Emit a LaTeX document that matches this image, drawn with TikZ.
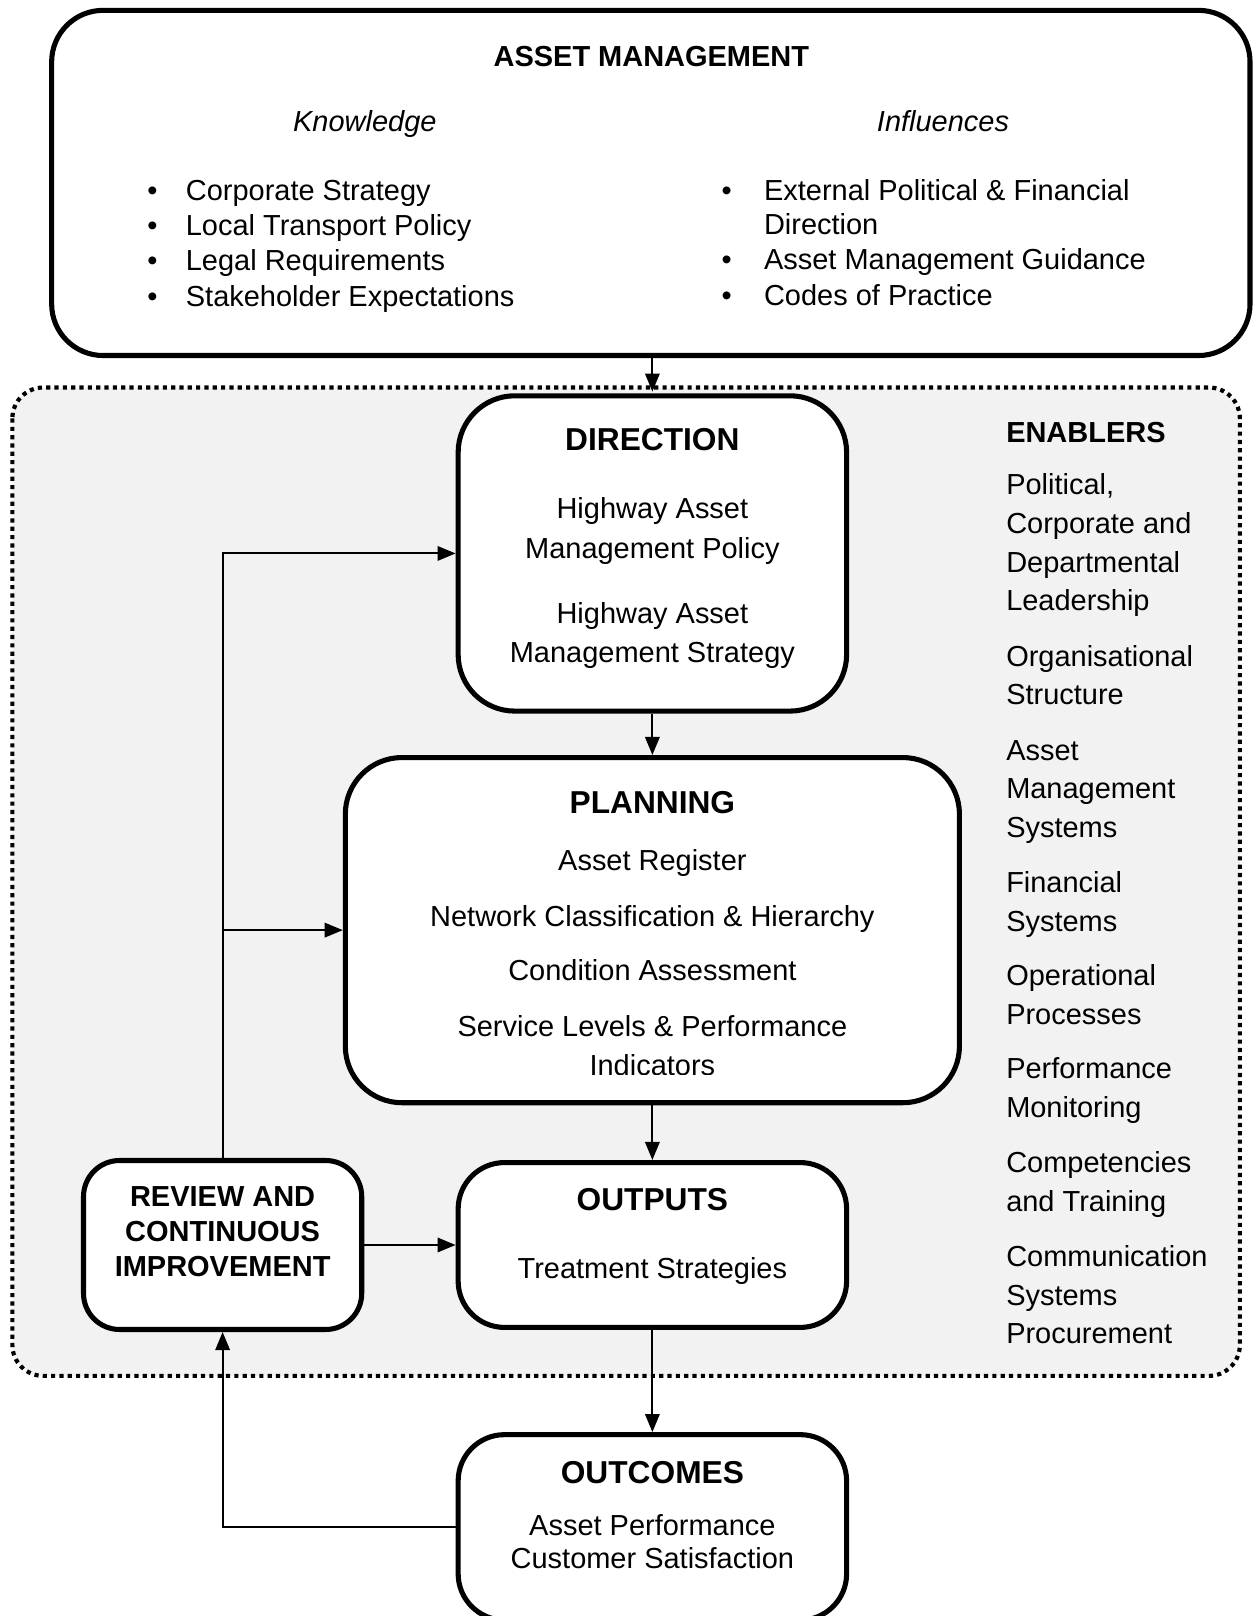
\documentclass[tikz,border=0pt]{standalone}
\usepackage{fontspec}
\setmainfont{Liberation Sans}
\usetikzlibrary{arrows.meta}
\begin{document}
\begin{tikzpicture}[x=0.02cm,y=-0.02cm]
\tikzstyle{every node}+=[inner sep=0pt]
\tikzstyle{box}=[draw=black, line width=2.8pt, fill=white, rectangle, rounded corners=1.1cm]
\tikzstyle{txt}=[font=\fontsize{16}{19}\selectfont, text height=1.3em, text depth=0.21em]
\tikzstyle{bold}=[txt, font=\fontsize{16}{19}\selectfont\bfseries]
\tikzstyle{ital}=[txt, font=\fontsize{16}{19}\selectfont\itshape]
\tikzstyle{head}=[txt, font=\fontsize{17.5}{21}\selectfont\bfseries]
\tikzstyle{link}=[black, line width=1.1pt, -{Triangle[length=10pt,width=8pt]}]
\useasboundingbox (0,0) rectangle (1216,1568);
\fill [white] (0,0) rectangle (1216,1568);
\draw [black, line width=2.3pt, dash pattern=on 2.3pt off 2.3pt, fill=gray!10, rounded corners=0.6cm] (12,376) rectangle (1203,1335);
\node [box, rounded corners=1cm, minimum width=23.26cm, minimum height=6.7cm] (topbox) at (631.5,177.5) {};
\node [bold] (amtitle) at (632,55) {ASSET MANAGEMENT};
\node [ital] (knowledge) at (354,118) {Knowledge};
\node [ital] (influences) at (915,118) {Influences};
\node [txt] (kb1) at (148,185) {\textbullet};
\node [txt] (kb2) at (148,219) {\textbullet};
\node [txt] (kb3) at (148,253) {\textbullet};
\node [txt] (kb4) at (148,288) {\textbullet};
\node [txt, anchor=west] (k1) at (180,185) {Corporate Strategy};
\node [txt, anchor=west] (k2) at (180,219) {Local Transport Policy};
\node [txt, anchor=west] (k3) at (180,253) {Legal Requirements};
\node [txt, anchor=west] (k4) at (180,288) {Stakeholder Expectations};
\node [txt] (ib1) at (705,185) {\textbullet};
\node [txt] (ib2) at (705,252) {\textbullet};
\node [txt] (ib3) at (705,287) {\textbullet};
\node [txt, anchor=west] (i1) at (741,185) {External Political \& Financial};
\node [txt, anchor=west] (i1b) at (741,218) {Direction};
\node [txt, anchor=west] (i2) at (741,252) {Asset Management Guidance};
\node [txt, anchor=west] (i3) at (741,287) {Codes of Practice};
\node [box, minimum width=7.54cm, minimum height=6.12cm] (direction) at (633,537) {};
\node [head] (dirtitle) at (633,428) {DIRECTION};
\node [txt] (d1) at (633,494) {Highway Asset};
\node [txt] (d2) at (633,532) {Management Policy};
\node [txt] (d3) at (633,595) {Highway Asset};
\node [txt] (d4) at (633,633) {Management Strategy};
\node [box, minimum width=11.92cm, minimum height=6.7cm] (planning) at (633,902.5) {};
\node [head] (plantitle) at (633,780) {PLANNING};
\node [txt] (p1) at (633,835) {Asset Register};
\node [txt] (p2) at (633,889) {Network Classification \& Hierarchy};
\node [txt] (p3) at (633,942) {Condition Assessment};
\node [txt] (p4) at (633,996) {Service Levels \& Performance};
\begin{scope}
\clip (334,735) rectangle (930,1042.5);
\node [txt] (p5) at (633,1034) {Indicators};
\end{scope}
\node [box, rounded corners=0.9cm, minimum width=7.54cm, minimum height=3.2cm] (outputs) at (633,1208) {};
\node [head] (outtitle) at (633,1165) {OUTPUTS};
\node [txt] (o1) at (633,1231) {Treatment Strategies};
\node [box, rounded corners=0.7cm, minimum width=5.4cm, minimum height=3.28cm] (review) at (216,1208) {};
\node [bold] (r1) at (216,1161) {REVIEW AND};
\node [bold] (r2) at (216,1195) {CONTINUOUS};
\node [bold] (r3) at (216,1229) {IMPROVEMENT};
\node [box, rounded corners=0.9cm, minimum width=7.54cm, minimum height=3.6cm] (outcomes) at (633,1482) {};
\node [head] (oc0) at (633,1430) {OUTCOMES};
\node [txt] (oc1) at (633,1480) {Asset Performance};
\node [txt] (oc2) at (633,1512) {Customer Satisfaction};
\node [bold, anchor=west] (enablers) at (976,420) {ENABLERS};
\node [txt, anchor=west] (e1) at (976,470) {Political,};
\node [txt, anchor=west] (e2) at (976,508) {Corporate and};
\node [txt, anchor=west] (e3) at (976,546) {Departmental};
\node [txt, anchor=west] (e4) at (976,583) {Leadership};
\node [txt, anchor=west] (e5) at (976,637) {Organisational};
\node [txt, anchor=west] (e6) at (976,674) {Structure};
\node [txt, anchor=west] (e7) at (976,728) {Asset};
\node [txt, anchor=west] (e8) at (976,765) {Management};
\node [txt, anchor=west] (e9) at (976,803) {Systems};
\node [txt, anchor=west] (e10) at (976,856) {Financial};
\node [txt, anchor=west] (e11) at (976,894) {Systems};
\node [txt, anchor=west] (e12) at (976,947) {Operational};
\node [txt, anchor=west] (e13) at (976,984) {Processes};
\node [txt, anchor=west] (e14) at (976,1037) {Performance};
\node [txt, anchor=west] (e15) at (976,1075) {Monitoring};
\node [txt, anchor=west] (e16) at (976,1128) {Competencies};
\node [txt, anchor=west] (e17) at (976,1166) {and Training};
\node [txt, anchor=west] (e18) at (976,1219) {Communication};
\node [txt, anchor=west] (e19) at (976,1257) {Systems};
\node [txt, anchor=west] (e20) at (976,1294) {Procurement};
\coordinate (amin) at (633,380);
\draw [link] (topbox.south -| amin) -- (amin);
\draw [link] (direction.south) -- (planning.north);
\draw [link] (planning.south) -- (outputs.north);
\draw [link] (outputs.south) -- (outcomes.north);
\draw [link] (review.north) |- (direction.west);
\draw [link] (review.north |- planning.west) -- (planning.west);
\draw [link] (review.east) -- (outputs.west);
\draw [link] (outcomes.west) -| (review.south);
\end{tikzpicture}
\end{document}
